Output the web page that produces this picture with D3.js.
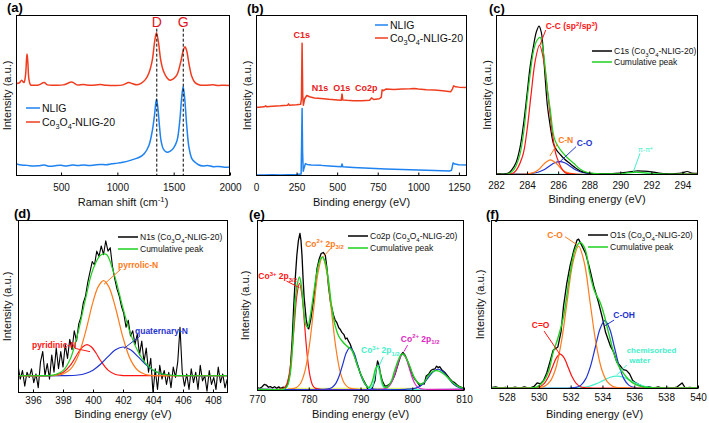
<!DOCTYPE html>
<html>
<head>
<meta charset="utf-8">
<script src="https://cdn.jsdelivr.net/npm/d3@7"></script>
<style>
body { margin: 0; background: #fff; }
svg { display: block; font-family: "Liberation Sans", Arial, Helvetica, sans-serif; }
</style>
</head>
<body>
<svg id="fig" width="709" height="423"></svg>
<script>
// ---- colours ----
const BLUE_NLIG = '#1e82f0', RED_CO = '#f03c1e';
const FIT_RED = '#ff1414', FIT_ORANGE = '#ff7a1a', FIT_BLUE = '#1f33d2', FIT_GREEN = '#1fd01f',
  FIT_CYAN = '#44f0cc', FIT_MAGENTA = '#dc28c0', FIT_YELLOW = '#e6f070';

// ---- (a) Raman ----
const ramanTicks = [500, 1000, 1500, 2000];
const ramanNLIG = [[100,7.7],[150,6.8],[200,6.6],[250,6.2],[300,6.4],[350,6.8],[400,6.0],[450,6.4],[500,6.6],[550,6.2],[600,6.8],[650,6.5],[700,6.9],[750,6.5],[800,6.9],[850,7.2],[900,7.0],[950,7.6],[1000,8.0],[1050,8.6],[1100,9.4],[1150,10.5],[1200,11.8],[1240,14],[1280,19],[1310,28],[1330,38],[1347,47.7],[1360,42],[1375,30],[1390,21],[1410,16.5],[1440,14.8],[1470,15.5],[1500,17.5],[1530,22],[1555,35],[1570,48],[1584,55.4],[1598,48],[1615,32],[1635,18],[1660,11],[1690,8.5],[1720,7],[1760,6.2],[1800,6.5],[1850,5.8],[1900,5.9],[1950,5.5],[2000,5.6]];
const ramanCo = [[100,57.5],[130,57.8],[150,59.5],[170,58],[185,63],[193,72],[198,75.7],[205,71],[215,60],[230,56.5],[260,56.4],[300,56.5],[350,58],[380,56.6],[450,56.4],[520,56.6],[600,58.3],[640,56.6],[700,56.8],[760,56.3],[850,56.8],[900,56.4],[980,56.2],[1050,56.6],[1100,58],[1130,57.5],[1170,56.6],[1210,57.5],[1250,60],[1280,64],[1310,72],[1330,83],[1347,89],[1365,83],[1385,72],[1410,65],[1440,61],[1466,59.5],[1500,60.5],[1530,63],[1560,70],[1585,78],[1600,80.3],[1615,78],[1635,70],[1660,62],[1690,58],[1730,56.5],[1800,56.4],[1850,56.6],[1900,56.2],[1950,56.4],[2000,56.2]];
const ramanBands = [['D', 1350], ['G', 1585]];

// ---- (b) survey ----
const surveyTicks = [0, 250, 500, 750, 1000, 1250];
const surveyNLIG = [[0,0.6],[50,0.6],[100,0.8],[150,0.6],[200,0.8],[250,1.0],[278,1.2],[281,20],[284,41.9],[287,15],[291,3],[296,5],[305,7.7],[315,7.2],[340,6.9],[400,6.6],[450,6.2],[500,5.9],[525,5.7],[530,7.4],[535,5.7],[600,5.3],[700,4.8],[800,4.4],[900,4],[1000,3.7],[1100,3.4],[1190,3.1],[1205,3.6],[1214,8.1],[1225,7.4],[1250,7],[1300,6.9]];
const surveyCo = [[0,42.5],[50,43],[60,43.6],[65,43],[100,43.3],[150,43.6],[195,44],[200,44.8],[205,44],[250,44.2],[275,44.5],[280,48],[284,82.4],[288,50],[292,44],[300,48],[313,50],[330,49.2],[360,48.5],[400,48.2],[450,47.6],[500,47.2],[525,47],[530,51],[535,47.2],[560,47],[600,46.8],[650,46.8],[700,47],[712,48.5],[725,47.5],[760,48],[772,49],[777,53.5],[785,53],[800,54],[850,53.7],[900,54],[950,54.2],[975,54.4],[1000,54],[1050,53.6],[1100,53.4],[1150,53],[1200,52.4],[1210,54],[1218,56],[1230,55.4],[1250,55.2],[1300,55]];
const surveyLabels = [['C1s', 282, 85.5, 'middle'], ['N1s', 343, 53, 'start'], ['O1s', 476, 53, 'start'], ['Co2p', 610, 53, 'start']];

// ---- (c) C1s ----
const c1sTicks = [282, 284, 286, 288, 290, 292, 294];
const c1sRaw = [[282,0.8],[282.5,0.6],[282.8,1.2],[283,3],[283.3,8],[283.55,17.4],[283.8,34],[284,50.8],[284.2,68],[284.4,80],[284.6,89.5],[284.77,93.1],[284.92,89],[285.05,76],[285.16,61.3],[285.3,44],[285.5,29.9],[285.7,19.5],[285.9,15.5],[286.1,13.2],[286.4,10],[286.8,6.9],[287.1,4.5],[287.4,2.7],[287.8,1.4],[288.1,1],[288.5,0.8],[289,0.9],[289.5,0.8],[290,1.2],[290.5,1.8],[291,2.5],[291.5,2.4],[292,2],[292.5,1.2],[293,0.8],[293.5,0.9],[294,1.4],[294.3,2.2],[294.6,1.2],[295,1]];
const c1sSum = [[282,0.6],[282.8,0.8],[283.1,2.7],[283.3,6],[283.55,13.2],[283.8,28],[284,46.7],[284.2,63],[284.4,76.8],[284.6,83.5],[284.84,86],[285,80],[285.16,67.6],[285.3,54],[285.5,40.4],[285.65,28],[285.8,21.6],[286.1,16.3],[286.56,11.1],[287,7.3],[287.4,3.8],[287.85,1.7],[288.5,0.8],[289.5,0.7],[290.3,1.1],[291,1.8],[291.7,1.2],[292.5,0.7],[295,0.6]];
const c1sCC = [[282,0.6],[283.15,1.4],[283.7,11.5],[283.975,26.4],[284.25,49.6],[284.525,71.4],[284.8,81.1],[285.075,71.4],[285.35,49.6],[285.625,26.4],[285.9,11.5],[286.45,1.4],[287,0.6],[295,0.6]];
const c1sCN = [[282,0.6],[284,0.7],[284.5,1.8],[284.75,3.4],[285,6.0],[285.25,8.3],[285.5,9.4],[285.75,8.3],[286,6.0],[286.25,3.4],[286.5,1.8],[287,0.7],[295,0.6]];
const c1sCO = [[282,0.6],[284,0.7],[284.7,1.7],[285.05,3.1],[285.4,5.3],[285.75,7.5],[286.1,8.4],[286.45,7.5],[286.8,5.3],[287.15,3.1],[287.5,1.7],[288.2,0.7],[295,0.6]];
const c1sPi = [[282,0.4],[289,0.5],[290,0.9],[290.5,1.4],[291,1.7],[291.5,1.4],[292,0.9],[293,0.5],[295,0.4]];

// ---- (d) N1s ----
const n1sTicks = [396, 398, 400, 402, 404, 406, 408];
const n1sRaw = [[395,16],[395.15,8],[395.3,13],[395.45,4],[395.6,12],[395.75,9],[395.9,14],[396.05,6],[396.2,11],[396.35,3],[396.5,18],[396.65,24],[396.8,10],[396.95,17],[397.1,8],[397.25,22],[397.4,12],[397.55,26],[397.7,14],[397.85,24],[398,15],[398.15,28],[398.3,20],[398.45,31],[398.6,25],[398.75,36],[398.9,30],[399.05,40],[399.2,44],[399.35,52],[399.5,56],[399.65,64],[399.8,70],[399.95,76],[400.1,74],[400.25,82],[400.4,79],[400.55,85],[400.7,80],[400.85,88],[401,82],[401.15,84],[401.3,73],[401.45,66],[401.6,60],[401.75,56],[401.9,50],[402.05,46],[402.2,38],[402.35,42],[402.5,33],[402.65,36],[402.8,28],[402.95,34],[403.1,22],[403.25,30],[403.4,18],[403.55,26],[403.7,12],[403.85,20],[404,0],[404.15,14],[404.3,2],[404.45,16],[404.6,8],[404.75,13],[404.9,5],[405.05,12],[405.2,3],[405.35,15],[405.5,9],[405.65,18],[405.8,38],[405.95,12],[406.1,4],[406.25,11],[406.4,2],[406.55,14],[406.7,6],[406.85,12],[407,2],[407.15,16],[407.3,7],[407.45,10],[407.6,1],[407.75,13],[407.9,5],[408.05,9],[408.2,2],[408.35,15],[408.5,6],[408.65,11],[408.8,3],[408.95,8]];
const n1sSum = [[395,10],[396.5,10],[397,10.1],[397.5,10.6],[398,12.9],[398.5,20],[399,34.8],[399.5,54.3],[400,71.5],[400.5,79.6],[400.85,80.3],[401,79],[401.5,66],[402,49],[402.5,34.3],[403,24],[403.5,17.3],[404,13.3],[404.5,11.3],[405,10.4],[405.5,10.1],[406,10],[409,10]];
const n1sPyridinic = [[395,10],[397,10],[397.5,10.4],[398,11.9],[398.5,16.1],[399,23.1],[399.3,26.6],[399.6,28],[399.9,26.6],[400.2,23.1],[400.5,18.8],[401,13.2],[401.5,10.7],[402,10.1],[403,10],[409,10]];
const n1sPyrrolic = [[395,10],[397,10],[397.5,10.2],[398,11],[398.5,13.8],[399,21.3],[399.5,35.2],[400,52.7],[400.35,61.5],[400.7,65],[401.05,61.5],[401.5,49.3],[402,32],[402.5,19.3],[403,13],[403.5,10.7],[404,10.1],[405,10],[409,10]];
const n1sQuaternary = [[395,10],[398,10],[399,10.4],[399.5,11.3],[400,13.2],[400.5,16.6],[401,21],[401.5,25],[402,26.6],[402.5,25],[403,21],[403.5,16.6],[404,13.2],[404.5,11.3],[405,10.4],[406,10],[409,10]];

// ---- (e) Co2p ----
const co2pTicks = [770, 780, 790, 800, 810];
const co2pRaw = [[770,2],[770.5,1.5],[771,2.5],[771.4,3.9],[771.8,3.5],[772.2,2.2],[772.6,2.6],[773,1.8],[773.4,2.5],[773.8,1.6],[774.2,2.4],[774.6,1.5],[775,2.2],[775.5,2],[775.9,4],[776.4,10.8],[776.8,30],[777.1,50],[777.4,66],[777.7,79.4],[778,88],[778.3,92.2],[778.5,88],[778.7,79],[778.9,66],[779.1,55],[779.5,42],[779.8,37],[780,36.3],[780.4,42],[780.9,53],[781.3,63],[781.6,71.6],[782,77],[782.4,80.4],[782.8,81],[783.2,79.4],[783.5,72],[783.8,61.8],[784.2,52],[784.8,44.1],[785.1,41.5],[785.4,40.2],[785.8,37],[786.1,36],[786.4,34.3],[786.8,33],[787.1,30.4],[787.4,31],[787.7,29],[788,27.5],[788.4,24],[788.8,21],[789.2,17],[789.6,13.7],[790,10],[790.5,6.9],[790.9,4.5],[791.2,2.9],[791.5,0],[791.8,1.5],[792.1,0],[792.4,3],[792.8,6],[793,12],[793.3,17.6],[793.6,15],[793.8,10.8],[794.2,6],[794.7,2.9],[795.2,3.2],[795.7,4.2],[796.2,6.5],[796.7,10],[797.3,16],[797.8,21],[798.2,22.5],[798.6,21],[799.2,16.7],[799.7,12],[800.2,8.5],[800.5,6.9],[801,5],[801.5,2.9],[802,4.5],[802.3,4],[802.7,8.8],[803.2,10],[803.6,12],[804,12.7],[804.4,13],[804.7,14.5],[805,13.7],[805.3,14.2],[805.7,12.5],[806.3,10.8],[806.8,9],[807.3,7],[807.8,5.5],[808.2,4.9],[808.7,3.5],[809.2,2.5],[809.6,2],[810,2]];
const co2pSum = [[770,1],[775,1],[775.5,1.5],[776,4],[776.5,12],[776.9,28],[777.3,48],[777.7,61],[778.2,66.7],[778.6,61],[779,48],[779.4,39],[779.8,37.3],[780.3,44],[780.9,56],[781.5,68],[782.1,76],[782.65,78.4],[783.2,75],[783.8,65],[784.4,50],[785.1,38.2],[785.8,32],[786.4,29.4],[787.1,27],[787.7,25.5],[788.3,24],[788.9,19.6],[789.5,14],[790.2,8.8],[790.9,4],[791.5,2],[792,3.5],[792.5,8],[792.9,13],[793.3,14.7],[793.7,12],[794.1,6],[794.6,2.5],[795,2],[795.5,3.5],[796,6],[796.6,12],[797.3,18],[797.8,21],[798.2,21.6],[798.7,20],[799.5,14.7],[800.2,9],[800.8,5.9],[801.3,4.5],[801.8,4],[802.4,5.5],[803.1,8.9],[804,11.5],[805,11.8],[805.9,10.5],[806.9,7.8],[807.8,5],[808.8,2.9],[810,1.5]];
const co2pCo3a = [[770,1],[774.2,1],[775.2,1.7],[775.7,3.7],[776.2,9.4],[776.7,21.1],[777.2,38.6],[777.7,55.7],[778.2,63],[778.7,55.7],[779.2,38.6],[779.7,21.1],[780.2,9.4],[780.7,3.7],[781.2,1.7],[782.2,1],[810,1]];
const co2pCo2a = [[770,1],[775.85,1],[777.55,1.9],[778.4,4.4],[779.25,11.5],[780.1,26.1],[780.95,47.9],[781.8,69.3],[782.65,78.4],[783.5,69.3],[784.35,47.9],[785.2,26.1],[786.05,11.5],[786.9,4.4],[787.75,1.9],[789.45,1],[810,1]];
const co2pSat1 = [[770,1],[782.4,1],[783.8,1.3],[784.5,2.1],[785.2,4.3],[785.9,9],[786.6,15.9],[787.3,22.6],[788,25.5],[788.7,22.6],[789.4,15.9],[790.1,9],[790.8,4.3],[791.5,2.1],[792.2,1.3],[793.6,1],[810,1]];
const co2pCo3b = [[770,1],[791.5,1],[792.3,2.9],[792.55,5.4],[792.8,9.3],[793.05,13.1],[793.3,14.7],[793.55,13.1],[793.8,9.3],[794.05,5.4],[794.3,2.9],[794.8,1.2],[795.5,1],[810,1]];
const co2pCo2b = [[770,1],[794,1],[794.6,1.2],[795.2,1.9],[795.8,3.8],[796.4,7.7],[797,13.5],[797.6,19.2],[798.2,21.6],[798.8,19.2],[799.4,13.5],[800,7.7],[800.6,3.8],[801.2,1.9],[801.8,1.2],[803,1],[810,1]];
const co2pSat2 = [[770,1],[798.7,1],[800.5,1.5],[801.4,2.6],[802.3,4.8],[803.2,8.2],[804.1,11.4],[805,12.8],[805.9,11.4],[806.8,8.2],[807.7,4.8],[808.6,2.6],[809.5,1.5],[810,1.3]];
const co2pBase = [[776,1],[801,1]];

// ---- (f) O1s ----
const o1sTicks = [528, 530, 532, 534, 536, 538, 540];
const o1sRaw = [[527,0.8],[527.3,1.2],[527.6,0.4],[527.9,1],[528.2,0.2],[528.5,1.1],[528.8,0.5],[529.1,1.3],[529.4,0.4],[529.7,1.5],[529.9,3.6],[530.1,3],[530.3,5],[530.5,9.5],[530.7,16],[530.9,22.9],[531.2,24.9],[531.4,34],[531.55,48.7],[531.75,62],[531.97,73.2],[532.2,82],[532.4,88.1],[532.5,88.7],[532.7,85],[532.95,80],[533.2,71.2],[533.45,61],[533.75,51.3],[534,42],[534.2,33.4],[534.5,25.4],[534.7,22],[534.9,16],[535.1,14],[535.3,11.5],[535.5,11],[535.7,9],[535.9,5],[536.1,3.6],[536.4,2],[536.6,0.8],[536.9,1.4],[537.2,0.5],[537.5,1.2],[537.8,0.3],[538.1,1],[538.4,0.4],[538.7,1.3],[539,3.6],[539.2,0.6],[539.5,1],[539.8,0.3],[540,1]];
const o1sSum = [[527,0.6],[529.5,0.6],[529.9,1.2],[530.3,4.6],[530.6,10],[530.9,21.5],[531.2,30],[531.55,42.7],[531.97,68.6],[532.3,83],[532.6,86.7],[532.9,83],[533.2,68.6],[533.5,58],[533.85,51.3],[534.1,44],[534.3,36.4],[534.5,29],[534.7,21.5],[535,14],[535.3,9.5],[535.6,6],[535.9,3.6],[536.3,1.8],[536.8,0.9],[537.5,0.6],[540,0.6]];
const o1sCdO = [[527,0.6],[529.6,0.6],[529.85,0.8],[530.1,1.5],[530.35,3.3],[530.6,7.1],[530.85,12.7],[531.1,18.3],[531.35,20.6],[531.6,18.3],[531.85,12.7],[532.1,7.1],[532.35,3.3],[532.6,1.5],[532.85,0.8],[533.4,0.6],[540,0.6]];
const o1sCO = [[527,0.6],[529.6,0.6],[529.98,0.8],[530.34,1.5],[530.7,4.3],[531.06,12],[531.42,27.9],[531.78,51.5],[532.14,74.7],[532.5,84.6],[532.86,74.7],[533.22,51.5],[533.58,27.9],[533.94,12],[534.3,4.3],[534.66,1.5],[535.02,0.8],[535.6,0.6],[540,0.6]];
const o1sCOH = [[527,0.6],[532,0.6],[532.35,1.0],[532.65,2.3],[532.95,6],[533.25,13.5],[533.55,24.7],[533.85,35.7],[534.15,40.4],[534.45,35.7],[534.75,24.7],[535.05,13.5],[535.35,6],[535.65,2.3],[535.95,1.0],[536.4,0.6],[540,0.6]];
const o1sWater = [[527,0.6],[532,0.6],[532.65,0.9],[533.1,1.5],[533.55,2.9],[534,4.8],[534.45,6.8],[534.9,7.6],[535.35,6.8],[535.8,4.8],[536.25,2.9],[536.7,1.5],[537.15,0.9],[537.8,0.6],[540,0.6]];

const svg = d3.select('#fig');
const defs = svg.append('defs');

// text with _{sub} and ^{sup} pieces
function rich(sel, str, size) {
  let prev = 0;
  str.split(/(_\{[^}]*\}|\^\{[^}]*\})/).filter(s => s).forEach(s => {
    let shift = 0, t = s;
    if (s[0] === '_') { shift = 0.3 * size; t = s.slice(2, -1); }
    else if (s[0] === '^') { shift = -0.4 * size; t = s.slice(2, -1); }
    const span = sel.append('tspan').text(t);
    if (shift - prev) span.attr('dy', shift - prev);
    if (shift) span.attr('font-size', size * 0.7);
    prev = shift;
  });
}

function panel(p) {
  const { l, t, r, b } = p.box;
  const x = d3.scaleLinear().domain(p.xDomain).range([l, r]);
  const y = d3.scaleLinear().domain([0, 100]).range([b, t]);
  const g = svg.append('g');

  defs.append('clipPath').attr('id', 'clip-' + p.id)
    .append('rect').attr('x', l).attr('y', t).attr('width', r - l).attr('height', b - t);

  const plot = g.append('g').attr('clip-path', `url(#clip-${p.id})`);
  p.series.forEach(s => {
    plot.append('path')
      .datum(s.data)
      .attr('fill', 'none')
      .attr('stroke', s.color)
      .attr('stroke-width', s.width || 1.2)
      .attr('stroke-linejoin', 'round')
      .attr('d', d3.line()
        .x(d => x(d[0]))
        .y(d => y(d[1]))
        .curve(s.smooth ? d3.curveCatmullRom : d3.curveLinear));
  });

  if (p.extra) p.extra(g, x, y);

  // frame
  g.append('rect')
    .attr('x', l + 0.5).attr('y', t + 0.5)
    .attr('width', r - l - 1).attr('height', b - t - 1)
    .attr('fill', 'none').attr('stroke', '#000').attr('stroke-width', 1);

  const axis = g.append('g')
    .attr('transform', `translate(0,${b - 0.5})`)
    .call(d3.axisBottom(x).tickValues(p.xTicks).tickSize(-3).tickPadding(p.tickPad).tickFormat(d3.format('d')));
  axis.select('.domain').remove();
  axis.selectAll('text').attr('font-size', 10).attr('font-family', null).attr('fill', '#111');
  axis.selectAll('line').attr('stroke', '#000');

  g.append('text')
    .attr('x', (l + r) / 2).attr('y', p.xTitleY)
    .attr('text-anchor', 'middle').attr('font-size', 11).attr('fill', '#111')
    .call(s => rich(s, p.xTitle, 11));

  g.append('text')
    .attr('transform', `translate(${p.yTitleX},${(t + b) / 2}) rotate(-90)`)
    .attr('text-anchor', 'middle').attr('font-size', 11).attr('fill', '#111')
    .text('Intensity (a.u.)');

  g.append('text')
    .attr('x', p.tag[1]).attr('y', p.tag[2])
    .attr('font-size', 13).attr('font-weight', 'bold')
    .text(p.tag[0]);

  // legend
  const lg = p.legend;
  lg.items.forEach(([label, color], i) => {
    const ly = lg.y + i * lg.step;
    g.append('line').attr('x1', lg.x1).attr('x2', lg.x2).attr('y1', ly).attr('y2', ly)
      .attr('stroke', color).attr('stroke-width', 1.5);
    g.append('text').attr('x', lg.x2 + 2).attr('y', ly + lg.size * 0.36)
      .attr('font-size', lg.size).attr('fill', '#111')
      .call(s => rich(s, label, lg.size));
  });

  // peak annotations
  (p.notes || []).forEach(n => {
    if (n.leader) {
      g.append('line')
        .attr('x1', x(n.leader[0])).attr('y1', y(n.leader[1]))
        .attr('x2', x(n.leader[2])).attr('y2', y(n.leader[3]))
        .attr('stroke', n.color).attr('stroke-width', 1);
    }
    const size = n.size || 8.5;
    g.append('text')
      .attr('x', x(n.x)).attr('y', y(n.y))
      .attr('text-anchor', n.anchor || 'start')
      .attr('font-size', size).attr('font-weight', n.normal ? 'normal' : 'bold')
      .attr('fill', n.color)
      .call(s => rich(s, n.text, size));
  });
}

const co3o4 = 'Co_{3}O_{4}-NLIG-20';

panel({
  id: 'a', box: { l: 16, t: 15, r: 230, b: 176 }, xDomain: [100, 2000], xTicks: ramanTicks, tickPad: 8,
  xTitle: 'Raman shift (cm^{-1})', xTitleY: 206, yTitleX: 11, tag: ['(a)', 7, 12],
  series: [
    { data: ramanNLIG, color: BLUE_NLIG, width: 1.5, smooth: true },
    { data: ramanCo, color: RED_CO, width: 1.5, smooth: true }
  ],
  legend: { x1: 26, x2: 40, y: 108, step: 14, size: 10.5, items: [['NLIG', BLUE_NLIG], [co3o4, RED_CO]] },
  extra: (g, x, y) => {
    ramanBands.forEach(([name, pos]) => {
      g.append('line').attr('x1', x(pos)).attr('x2', x(pos)).attr('y1', y(91.5)).attr('y2', y(0))
        .attr('stroke', '#000').attr('stroke-width', 1).attr('stroke-dasharray', '3,2');
      g.append('text').attr('x', x(pos)).attr('y', y(92.4)).attr('text-anchor', 'middle')
        .attr('font-size', 14).attr('fill', '#e0141e').text(name);
    });
  }
});

panel({
  id: 'b', box: { l: 256, t: 15, r: 467, b: 176 }, xDomain: [0, 1300], xTicks: surveyTicks, tickPad: 8,
  xTitle: 'Binding energy (eV)', xTitleY: 206, yTitleX: 251, tag: ['(b)', 247, 13],
  series: [
    { data: surveyNLIG, color: BLUE_NLIG, width: 1.5 },
    { data: surveyCo, color: RED_CO, width: 1.5 }
  ],
  legend: { x1: 375, x2: 388, y: 25, step: 13, size: 10.5, items: [['NLIG', BLUE_NLIG], [co3o4, RED_CO]] },
  notes: surveyLabels.map(([text, px, py, anchor]) => ({ text, x: px, y: py, anchor, color: '#e8201a', size: 9 }))
});

panel({
  id: 'c', box: { l: 496, t: 15, r: 698, b: 175 }, xDomain: [282, 295], xTicks: c1sTicks, tickPad: 7,
  xTitle: 'Binding energy (eV)', xTitleY: 203, yTitleX: 491, tag: ['(c)', 489, 13],
  series: [
    { data: c1sPi, color: FIT_CYAN, smooth: true },
    { data: c1sCO, color: FIT_BLUE, smooth: true },
    { data: c1sCN, color: FIT_ORANGE, smooth: true },
    { data: c1sRaw, color: '#000', smooth: true },
    { data: c1sCC, color: FIT_RED, smooth: true },
    { data: c1sSum, color: FIT_GREEN, smooth: true }
  ],
  legend: { x1: 592, x2: 612, y: 51, step: 11, size: 8.5, items: [['C1s (' + co3o4 + ')', '#000'], ['Cumulative peak', FIT_GREEN]] },
  notes: [
    { text: 'C-C (sp^{2}/sp^{3})', color: FIT_RED, x: 285.2, y: 91.3, leader: [285.2, 90.6, 284.83, 81.25] },
    { text: 'C-N', color: FIT_ORANGE, x: 286.0, y: 20, leader: [285.95, 19.4, 285.47, 11.9] },
    { text: 'C-O', color: FIT_BLUE, x: 287.2, y: 18.1, leader: [287.15, 17.7, 286.07, 7.9] },
    { text: 'π-π*', color: FIT_CYAN, x: 291.14, y: 14.6, size: 7, normal: true, leader: [291.27, 13.6, 290.84, 2.1] }
  ]
});

panel({
  id: 'd', box: { l: 18, t: 220, r: 228, b: 393 }, xDomain: [395, 409], xTicks: n1sTicks, tickPad: 4,
  xTitle: 'Binding energy (eV)', xTitleY: 418, yTitleX: 11, tag: ['(d)', 14, 218],
  series: [
    { data: n1sRaw, color: '#000', width: 1.1 },
    { data: n1sPyridinic, color: FIT_RED, smooth: true },
    { data: n1sQuaternary, color: FIT_BLUE, smooth: true },
    { data: n1sPyrrolic, color: FIT_ORANGE, smooth: true },
    { data: n1sSum, color: FIT_GREEN, smooth: true }
  ],
  legend: { x1: 118, x2: 138, y: 237, step: 12, size: 8.5, items: [['N1s (' + co3o4 + ')', '#000'], ['Cumulative peak', FIT_GREEN]] },
  notes: [
    { text: 'pyrrolic-N', color: FIT_ORANGE, x: 401.67, y: 72.3, leader: [401.85, 71.5, 400.73, 62.8] },
    { text: 'pyridinic-N', color: FIT_RED, x: 395.93, y: 26.2, leader: [398.8, 25.8, 399.8, 23.9] },
    { text: 'quaternary-N', color: FIT_BLUE, x: 402.8, y: 33.9, leader: [403.13, 32.9, 402.07, 25.8] }
  ]
});

panel({
  id: 'e', box: { l: 257, t: 220, r: 464, b: 391 }, xDomain: [770, 810], xTicks: co2pTicks, tickPad: 5,
  xTitle: 'Binding energy (eV)', xTitleY: 418, yTitleX: 249, tag: ['(e)', 249, 219],
  series: [
    { data: co2pBase, color: FIT_YELLOW, width: 3 },
    { data: co2pRaw, color: '#000', width: 1.3 },
    { data: co2pCo3a, color: FIT_RED, smooth: true },
    { data: co2pCo2a, color: FIT_ORANGE, smooth: true },
    { data: co2pSat1, color: FIT_BLUE, smooth: true },
    { data: co2pCo3b, color: FIT_CYAN, smooth: true },
    { data: co2pCo2b, color: FIT_MAGENTA, smooth: true },
    { data: co2pSat2, color: FIT_BLUE, smooth: true },
    { data: co2pSum, color: FIT_GREEN, width: 1.4, smooth: true }
  ],
  legend: { x1: 348, x2: 368, y: 236, step: 12, size: 8.5, items: [['Co2p (' + co3o4 + ')', '#000'], ['Cumulative peak', FIT_GREEN]] },
  notes: [
    { text: 'Co^{3+} 2p_{3/2}', color: FIT_RED, x: 770.25, y: 65.5, leader: [775.7, 64.3, 778.2, 60.4] },
    { text: 'Co^{2+} 2p_{3/2}', color: FIT_ORANGE, x: 779.3, y: 84.4, leader: [784.4, 83.8, 782.8, 78.5] },
    { text: 'Co^{3+} 2p_{1/2}', color: FIT_CYAN, x: 790.1, y: 22, leader: [794.4, 20, 793.4, 13.3] },
    { text: 'Co^{2+} 2p_{1/2}', color: FIT_MAGENTA, x: 797.8, y: 28.8, leader: [799.1, 26.9, 798.4, 23] }
  ]
});

panel({
  id: 'f', box: { l: 491, t: 220, r: 698, b: 389 }, xDomain: [527, 540], xTicks: o1sTicks, tickPad: 5,
  xTitle: 'Binding energy (eV)', xTitleY: 418, yTitleX: 484, tag: ['(f)', 486, 219],
  series: [
    { data: o1sRaw, color: '#000', width: 1.3 },
    { data: o1sWater, color: FIT_CYAN, smooth: true },
    { data: o1sCdO, color: FIT_RED, smooth: true },
    { data: o1sCOH, color: FIT_BLUE, smooth: true },
    { data: o1sCO, color: FIT_ORANGE, smooth: true },
    { data: o1sSum, color: FIT_GREEN, width: 1.4, smooth: true }
  ],
  legend: { x1: 588, x2: 608, y: 235, step: 12, size: 8.5, items: [['O1s (' + co3o4 + ')', '#000'], ['Cumulative peak', FIT_GREEN]] },
  notes: [
    { text: 'C-O', color: FIT_ORANGE, x: 530.54, y: 89.5, leader: [531.65, 90.1, 532.42, 85.2] },
    { text: 'C-OH', color: FIT_BLUE, x: 534.68, y: 41.8, leader: [534.73, 40.8, 534.16, 37.5] },
    { text: 'C=O', color: FIT_RED, x: 529.56, y: 35.9, leader: [530.33, 34.3, 531.33, 20.5] },
    { text: 'chemisorbed', color: FIT_CYAN, x: 535.52, y: 21.1, size: 8, leader: [535.52, 14.2, 534.9, 8.3] },
    { text: 'water', color: FIT_CYAN, x: 535.69, y: 15.2, size: 8 }
  ]
});
</script>
</body>
</html>
